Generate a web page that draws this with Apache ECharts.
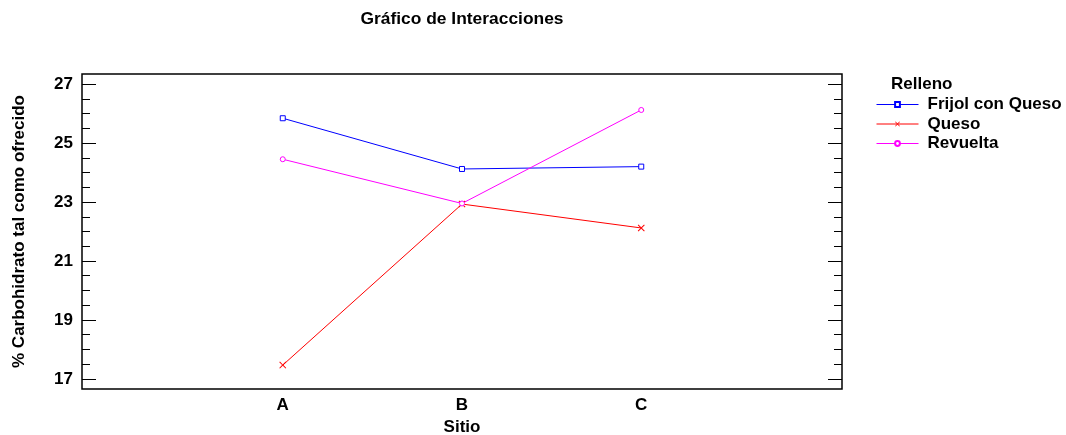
<!DOCTYPE html>
<html>
<head>
<meta charset="utf-8">
<script src="https://cdn.jsdelivr.net/npm/echarts@6/dist/echarts.min.js"></script>
<style>
  html, body { margin: 0; padding: 0; background: #fff; }
  #chart { width: 1066px; height: 435px; }
</style>
</head>
<body>
<div id="chart"></div>
<script>
// Interaction plot: mean carbohydrate by site for each filling
const sitios = ['A', 'B', 'C'];
const rellenos = ['Frijol con Queso', 'Queso', 'Revuelta'];
const frijolConQueso = [25.84, 24.12, 24.20];
const queso = [17.47, 22.93, 22.12];
const revuelta = [24.45, 22.95, 26.12];
const yMajorTicks = [17, 19, 21, 23, 25, 27];
const yMinorTicks = [17.5, 18, 18.5, 19.5, 20, 20.5, 21.5, 22, 22.5, 23.5, 24, 24.5, 25.5, 26, 26.5];

const FONT = 'Liberation Sans, Arial, sans-serif';
const Y_MIN = 16.66, Y_MAX = 27.34;
const crossPath = 'path://M0,1 L1,0 L5,4 L9,0 L10,1 L6,5 L10,9 L9,10 L5,6 L1,10 L0,9 L4,5 Z';

const toPoints = vals => sitios.map((s, i) => [i + 1, vals[i]]);

const labelStyle = { fontFamily: FONT, fontWeight: 'bold', fontSize: 17, color: '#000' };

// A y axis that only draws tick marks pointing into the plot
function tickAxis(position, ticks, len) {
  return {
    type: 'value', position: position, offset: 0, min: Y_MIN, max: Y_MAX,
    axisLine: { show: false },
    splitLine: { show: false },
    axisTick: { show: true, inside: true, length: len, customValues: ticks,
                lineStyle: { color: '#000', width: 1 } },
    axisLabel: { show: false }
  };
}

const chart = echarts.init(document.getElementById('chart'));
chart.setOption({
  animation: false,
  backgroundColor: '#fff',
  title: [
    { text: 'Gráfico de Interacciones', left: 462, top: 11, textAlign: 'center', padding: 0,
      textStyle: { fontFamily: FONT, fontWeight: 'bold', fontSize: 17.4, color: '#000' } },
    { text: 'Relleno', left: 891, top: 76, padding: 0,
      textStyle: { fontFamily: FONT, fontWeight: 'bold', fontSize: 17, color: '#000' } }
  ],
  grid: {
    left: 82, right: 224, top: 74, bottom: 46,
    outerBoundsMode: 'none', containLabel: false,
    show: true, borderColor: '#000', borderWidth: 1.5, backgroundColor: 'transparent'
  },
  legend: {
    orient: 'vertical', left: 871, top: 91,
    itemWidth: 42, itemHeight: 6, itemGap: 2.5,
    data: rellenos,
    lineStyle: { width: 1 },
    textStyle: Object.assign({ lineHeight: 17, padding: [0, 0, 0, 4] }, labelStyle)
  },
  xAxis: {
    type: 'value', min: -0.12, max: 4.12,
    name: 'Sitio', nameLocation: 'middle', nameGap: 29,
    nameTextStyle: labelStyle,
    axisLine: { show: false },
    splitLine: { show: false },
    axisTick: { show: false },
    axisLabel: Object.assign({
      customValues: [1, 2, 3], margin: 8,
      formatter: v => sitios[Math.round(v) - 1] || ''
    }, labelStyle)
  },
  yAxis: [
    {
      type: 'value', position: 'left', offset: 0, min: Y_MIN, max: Y_MAX,
      name: '% Carbohidrato tal como ofrecido', nameLocation: 'middle', nameGap: 54,
      nameTextStyle: labelStyle,
      axisLine: { show: false },
      splitLine: { show: false },
      axisTick: { show: false },
      axisLabel: Object.assign({ customValues: yMajorTicks, margin: 9 }, labelStyle)
    },
    tickAxis('left', yMajorTicks, 14),
    tickAxis('left', yMinorTicks, 8),
    tickAxis('right', yMajorTicks, 14),
    tickAxis('right', yMinorTicks, 8)
  ],
  series: [
    { name: rellenos[0], type: 'line', data: toPoints(frijolConQueso),
      symbol: 'rect', symbolSize: 5,
      lineStyle: { color: '#0000ff', width: 1 },
      itemStyle: { color: '#fff', borderColor: '#0000ff', borderWidth: 1 } },
    { name: rellenos[1], type: 'line', data: toPoints(queso),
      symbol: crossPath, symbolSize: 7,
      lineStyle: { color: '#ff0000', width: 1 },
      itemStyle: { color: '#ff0000', borderWidth: 0 } },
    { name: rellenos[2], type: 'line', data: toPoints(revuelta),
      symbol: 'circle', symbolSize: 5,
      lineStyle: { color: '#ff00ff', width: 1 },
      itemStyle: { color: '#fff', borderColor: '#ff00ff', borderWidth: 1 } }
  ]
});
</script>
</body>
</html>
